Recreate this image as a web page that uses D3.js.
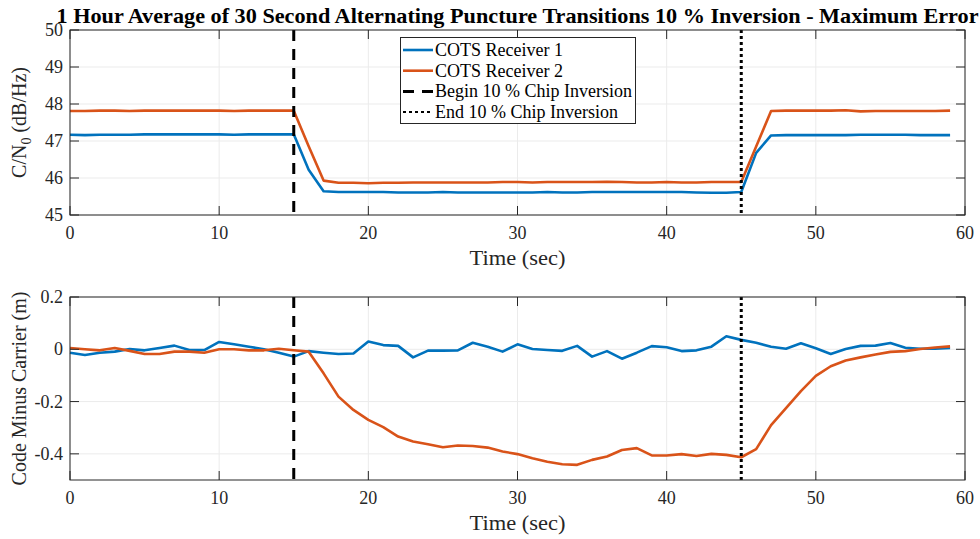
<!DOCTYPE html>
<html>
<head>
<meta charset="utf-8">
<script src="https://cdn.jsdelivr.net/npm/d3@7"></script>
<style>
  html, body { margin: 0; padding: 0; background: #fff; }
  svg { display: block; font-family: "Liberation Serif", "Times New Roman", serif; }
</style>
</head>
<body>
<div id="chart"></div>
<script>
// ── Data ──────────────────────────────────────────────────────────────────
const timeSec = [0, 1, 2, 3, 4, 5, 6, 7, 8, 9, 10, 11, 12, 13, 14, 15, 16, 17, 18, 19,
  20, 21, 22, 23, 24, 25, 26, 27, 28, 29, 30, 31, 32, 33, 34, 35, 36, 37, 38, 39,
  40, 41, 42, 43, 44, 45, 46, 47, 48, 49, 50, 51, 52, 53, 54, 55, 56, 57, 58, 59];

const cn0Rx1 = [47.17, 47.16, 47.17, 47.17, 47.17, 47.18, 47.18, 47.18, 47.18, 47.18,
  47.18, 47.17, 47.18, 47.18, 47.18, 47.18, 46.22, 45.64, 45.62, 45.62,
  45.62, 45.62, 45.61, 45.61, 45.61, 45.62, 45.61, 45.61, 45.61, 45.61,
  45.61, 45.61, 45.62, 45.61, 45.61, 45.62, 45.62, 45.62, 45.62, 45.62,
  45.62, 45.62, 45.61, 45.60, 45.60, 45.62, 46.68, 47.15, 47.16, 47.16,
  47.16, 47.16, 47.16, 47.17, 47.17, 47.17, 47.17, 47.16, 47.16, 47.16];

const cn0Rx2 = [47.81, 47.81, 47.82, 47.82, 47.81, 47.82, 47.82, 47.82, 47.82, 47.82,
  47.82, 47.81, 47.82, 47.82, 47.82, 47.82, 46.86, 45.93, 45.87, 45.87,
  45.86, 45.87, 45.87, 45.88, 45.88, 45.88, 45.88, 45.88, 45.88, 45.89,
  45.89, 45.88, 45.89, 45.89, 45.89, 45.89, 45.90, 45.89, 45.88, 45.88,
  45.89, 45.88, 45.88, 45.89, 45.89, 45.89, 46.85, 47.81, 47.82, 47.82,
  47.82, 47.82, 47.83, 47.80, 47.81, 47.81, 47.81, 47.81, 47.81, 47.82];

const cmcRx1 = [-0.013, -0.022, -0.013, -0.009, 0.001, -0.004, 0.005, 0.014, -0.003, -0.003,
  0.028, 0.019, 0.010, 0.000, -0.013, -0.028, -0.007, -0.013, -0.018, -0.016,
  0.030, 0.016, 0.013, -0.031, -0.005, -0.005, -0.004, 0.025, 0.010, -0.009,
  0.019, 0.001, -0.003, -0.006, 0.013, -0.028, -0.007, -0.036, -0.013, 0.012,
  0.008, -0.007, -0.004, 0.010, 0.050, 0.036, 0.025, 0.010, 0.002, 0.023,
  0.004, -0.018, 0.001, 0.013, 0.014, 0.024, 0.006, 0.002, 0.002, 0.005];

const cmcRx2 = [0.005, 0.000, -0.004, 0.005, -0.006, -0.018, -0.018, -0.009, -0.009, -0.013,
  0.000, 0.000, -0.004, -0.004, 0.002, -0.004, -0.009, -0.092, -0.181, -0.232,
  -0.270, -0.298, -0.334, -0.353, -0.363, -0.375, -0.368, -0.370, -0.376, -0.391,
  -0.401, -0.417, -0.430, -0.440, -0.442, -0.423, -0.410, -0.385, -0.378, -0.406,
  -0.406, -0.401, -0.408, -0.400, -0.404, -0.413, -0.382, -0.290, -0.225, -0.160,
  -0.102, -0.065, -0.043, -0.031, -0.020, -0.010, -0.007, 0.001, 0.007, 0.011];

const eventTimes = [15, 45];      // begin / end of chip inversion
const xTicks = [0, 10, 20, 30, 40, 50, 60];
const cn0Ticks = [45, 46, 47, 48, 49, 50];
const cmcTicks = [-0.4, -0.2, 0, 0.2];

const seriesNames = ['COTS Receiver 1', 'COTS Receiver 2',
  'Begin 10 % Chip Inversion', 'End 10 % Chip Inversion'];

const titleText = '1 Hour Average of 30 Second Alternating Puncture Transitions 10 % Inversion - Maximum Error';

// ── Styling ─────────────────────────────────────────────────────────────
const BLUE = '#0072BD';
const ORANGE = '#D95319';
const AXIS = '#262626';
const GRID = '#ebebeb';
const W = 980, H = 539;
const L = 70, R = 965;

const svg = d3.select('#chart').append('svg')
  .attr('width', W).attr('height', H);

const x = d3.scaleLinear().domain([0, 60]).range([L, R]);

function panel({ top, bottom, yDomain, yTicks, yFmt, s1, s2, ylabel }) {
  const y = d3.scaleLinear().domain(yDomain).range([bottom, top]);
  const g = svg.append('g');

  // grid
  g.selectAll('.gx').data(xTicks).join('line')
    .attr('x1', d => x(d)).attr('x2', d => x(d))
    .attr('y1', top).attr('y2', bottom)
    .attr('stroke', GRID).attr('stroke-width', 1);
  g.selectAll('.gy').data(yTicks).join('line')
    .attr('x1', L).attr('x2', R)
    .attr('y1', d => y(d)).attr('y2', d => y(d))
    .attr('stroke', GRID).attr('stroke-width', 1);

  // series
  const line = vals => d3.line().x((d, i) => x(timeSec[i])).y(d => y(d))(vals);
  g.append('path').attr('d', line(s1)).attr('fill', 'none')
    .attr('stroke', BLUE).attr('stroke-width', 2.6).attr('stroke-linejoin', 'round');
  g.append('path').attr('d', line(s2)).attr('fill', 'none')
    .attr('stroke', ORANGE).attr('stroke-width', 2.6).attr('stroke-linejoin', 'round');

  // event markers
  g.append('line')
    .attr('x1', x(eventTimes[0])).attr('x2', x(eventTimes[0]))
    .attr('y1', top).attr('y2', bottom)
    .attr('stroke', '#000').attr('stroke-width', 3).attr('stroke-dasharray', '11,8');
  g.append('line')
    .attr('x1', x(eventTimes[1])).attr('x2', x(eventTimes[1]))
    .attr('y1', top).attr('y2', bottom)
    .attr('stroke', '#000').attr('stroke-width', 3).attr('stroke-dasharray', '3,3');

  // box + ticks (inside, all four sides)
  g.append('rect').attr('x', L).attr('y', top)
    .attr('width', R - L).attr('height', bottom - top)
    .attr('fill', 'none').attr('stroke', AXIS).attr('stroke-width', 1);
  const tk = 9;
  xTicks.forEach(t => {
    g.append('line').attr('x1', x(t)).attr('x2', x(t)).attr('y1', bottom).attr('y2', bottom - tk)
      .attr('stroke', AXIS);
    g.append('line').attr('x1', x(t)).attr('x2', x(t)).attr('y1', top).attr('y2', top + tk)
      .attr('stroke', AXIS);
  });
  yTicks.forEach(t => {
    g.append('line').attr('x1', L).attr('x2', L + tk).attr('y1', y(t)).attr('y2', y(t))
      .attr('stroke', AXIS);
    g.append('line').attr('x1', R).attr('x2', R - tk).attr('y1', y(t)).attr('y2', y(t))
      .attr('stroke', AXIS);
  });

  // tick labels
  g.selectAll('.xl').data(xTicks).join('text')
    .attr('x', d => x(d)).attr('y', bottom + 24)
    .attr('text-anchor', 'middle').attr('font-size', 18).attr('fill', AXIS)
    .text(d => d);
  g.selectAll('.yl').data(yTicks).join('text')
    .attr('x', L - 7).attr('y', d => y(d) + 6)
    .attr('text-anchor', 'end').attr('font-size', 18).attr('fill', AXIS)
    .text(yFmt);

  // axis labels
  g.append('text').attr('x', (L + R) / 2).attr('y', bottom + 50)
    .attr('text-anchor', 'middle').attr('font-size', 20).attr('fill', AXIS)
    .attr('textLength', 96).attr('lengthAdjust', 'spacingAndGlyphs')
    .text('Time (sec)');
  const yl = g.append('text')
    .attr('transform', `translate(26,${(top + bottom) / 2}) rotate(-90)`)
    .attr('text-anchor', 'middle').attr('font-size', 20).attr('fill', AXIS);
  ylabel(yl);
  return { g, y };
}

// ── Top panel: C/N0 ─────────────────────────────────────────────────────
panel({
  top: 30, bottom: 215, yDomain: [45, 50], yTicks: cn0Ticks,
  yFmt: d => d, s1: cn0Rx1, s2: cn0Rx2,
  ylabel: t => {
    t.append('tspan').text('C/N');
    t.append('tspan').attr('font-size', 14).attr('dy', 5).text('0');
    t.append('tspan').attr('dy', -5).text(' (dB/Hz)');
  }
});

// ── Bottom panel: code minus carrier ───────────────────────────────────
panel({
  top: 297, bottom: 480, yDomain: [-0.5, 0.2], yTicks: cmcTicks,
  yFmt: d => d === 0 ? '0' : d3.format('.1f')(d).replace('−', '-'),
  s1: cmcRx1, s2: cmcRx2,
  ylabel: t => t.text('Code Minus Carrier (m)')
});

// ── Legend ─────────────────────────────────────────────────────────────
const lg = svg.append('g');
lg.append('rect').attr('x', 400.5).attr('y', 37.5).attr('width', 235).attr('height', 86)
  .attr('fill', '#fff').attr('stroke', AXIS).attr('stroke-width', 1);
const rows = [
  { stroke: BLUE, w: 2.6, dash: null },
  { stroke: ORANGE, w: 2.6, dash: null },
  { stroke: '#000', w: 3, dash: '11,8' },
  { stroke: '#000', w: 2, dash: '3,3' }
];
rows.forEach((r, i) => {
  const yy = 50 + i * 20.7;
  lg.append('line').attr('x1', 403).attr('x2', 433).attr('y1', yy).attr('y2', yy)
    .attr('stroke', r.stroke).attr('stroke-width', r.w)
    .attr('stroke-dasharray', r.dash);
  lg.append('text').attr('x', 435).attr('y', yy + 6)
    .attr('font-size', 18).attr('fill', '#000').text(seriesNames[i]);
});

// ── Title ─────────────────────────────────────────────────────────────
svg.append('text').attr('x', (L + R) / 2).attr('y', 23)
  .attr('text-anchor', 'middle').attr('font-size', 21).attr('font-weight', 'bold')
  .attr('textLength', 922).attr('lengthAdjust', 'spacingAndGlyphs')
  .attr('fill', '#000').text(titleText);
</script>
</body>
</html>
